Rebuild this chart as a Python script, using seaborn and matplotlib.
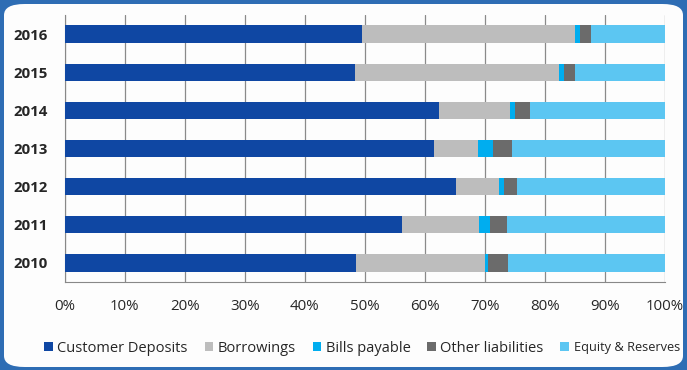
import matplotlib
matplotlib.use("Agg")
import matplotlib.pyplot as plt
import seaborn as sns
import pandas as pd
import numpy as np
from matplotlib.patches import FancyBboxPatch, Patch

years = ["2016", "2015", "2014", "2013", "2012", "2011", "2010"]
series = ["Customer Deposits", "Borrowings", "Bills payable", "Other liabilities", "Equity & Reserves"]
customer_deposits = [49.5, 48.3, 62.4, 61.5, 65.2, 56.2, 48.6]
borrowings = [35.5, 34.1, 11.8, 7.3, 7.1, 12.8, 21.4]
bills_payable = [0.9, 0.7, 0.8, 2.5, 0.9, 1.8, 0.6]
other_liabilities = [1.8, 1.9, 2.6, 3.2, 2.2, 2.9, 3.2]
equity_reserves = [12.3, 15.0, 22.4, 25.5, 24.6, 26.3, 26.2]
colors = ["#0f47a3", "#bdbdbd", "#00adef", "#6b6b6b", "#5cc6f2"]

sns.set_style("white")
plt.rcParams['font.family'] = ['Open Sans', 'DejaVu Sans']

vals = np.array([customer_deposits, borrowings, bills_payable, other_liabilities, equity_reserves])
cum = np.cumsum(vals, axis=0)

fig = plt.figure(figsize=(6.87, 3.70), dpi=100)
fig.patch.set_facecolor("#2e6db4")
bg = FancyBboxPatch((4 / 687, 3 / 370), 679 / 687, 363 / 370,
                    boxstyle="round,pad=0,rounding_size=0.03",
                    transform=fig.transFigure, facecolor="#fdfdfd",
                    edgecolor="none", zorder=-5)
fig.patches.append(bg)

ax = fig.add_axes([64.5 / 687, 1 - 282 / 370, (665 - 64.5) / 687, (282 - 15) / 370])
ax.set_facecolor("none")

for i in range(len(series) - 1, -1, -1):
    df = pd.DataFrame({"year": years, "value": cum[i]})
    sns.barplot(data=df, y="year", x="value", orient="h", color=colors[i],
                width=0.45, ax=ax, zorder=3, saturation=1, edgecolor="none")

ax.set_xlim(0, 100)
ax.set_ylim(6.5, -0.5)
ax.set_xticks(np.arange(0, 101, 10))
ax.set_xticklabels([f"{v}%" for v in range(0, 101, 10)], fontsize=10.8)
ax.set_yticks(range(len(years)))
ax.set_yticklabels(years, fontsize=10.8, fontweight="bold")
ax.set_yticks(np.arange(-0.5, 7, 1), minor=True)
ax.tick_params(axis="y", which="major", length=0, pad=12)
ax.tick_params(axis="y", which="minor", length=4, color="#888888", direction="out")
ax.tick_params(axis="x", length=4, color="#888888", direction="out", pad=8)
ax.grid(axis="x", color="#8a8a8a", linewidth=0.9, zorder=0)
ax.set_axisbelow(True)
ax.set_xlabel("")
ax.set_ylabel("")
for s in ["top", "right"]:
    ax.spines[s].set_visible(False)
ax.spines["left"].set_color("#888888")
ax.spines["bottom"].set_color("#888888")

handles = [Patch(facecolor=c, edgecolor="none") for c in colors]
leg = fig.legend(handles, series, loc="center", bbox_to_anchor=(0.527, 1 - 348 / 370), ncol=5,
                 frameon=False, fontsize=10.5, handlelength=0.6, handleheight=0.6,
                 handletextpad=0.3, columnspacing=1.15)
leg.get_texts()[-1].set_fontsize(9.2)

fig.savefig("out.png", dpi=100, facecolor=fig.get_facecolor())
